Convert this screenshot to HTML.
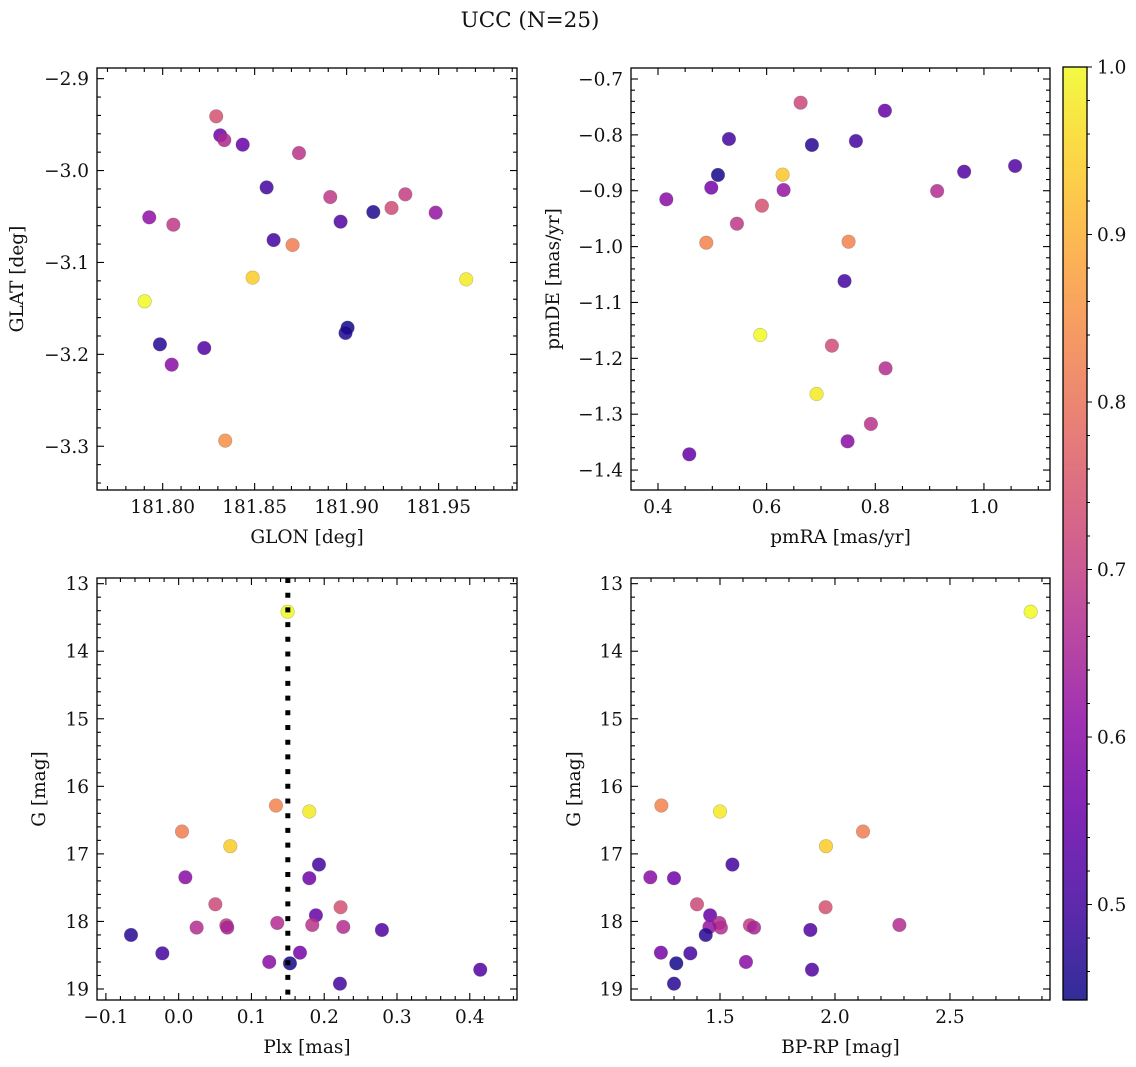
<!DOCTYPE html>
<html><head><meta charset="utf-8">
<style>
html,body{margin:0;padding:0;background:#fff;}
svg{display:block;font-family:"DejaVu Serif","Liberation Serif",serif;}
</style></head>
<body>
<svg id="fig" width="1136" height="1067" viewBox="0 0 1136 1067" xmlns="http://www.w3.org/2000/svg">
<rect width="1136" height="1067" fill="#fff"/>
<text x="530" y="27" font-size="21.5" text-anchor="middle" fill="#111">UCC (N=25)</text>
</svg>
<script>
// Panel 1: GLON vs GLAT
const glonVals=[181.8291,181.8313,181.8335,181.8435,181.8741,181.8565,181.8911,181.9319,181.9244,181.9145,181.9484,181.8967,181.7927,181.8058,181.8603,181.8706,181.8489,181.9650,181.7902,181.9005,181.8994,181.7985,181.8226,181.8049,181.8340];
const glatVals=[-2.9410,-2.9617,-2.9668,-2.9718,-2.9809,-3.0183,-3.0288,-3.0259,-3.0407,-3.0451,-3.0458,-3.0556,-3.0509,-3.0589,-3.0756,-3.0810,-3.1165,-3.1184,-3.1423,-3.1710,-3.1767,-3.1891,-3.1931,-3.2112,-3.2939];
const probA=[0.74,0.56,0.66,0.55,0.68,0.50,0.69,0.70,0.73,0.46,0.62,0.52,0.61,0.69,0.50,0.82,0.94,0.98,1.0,0.44,0.46,0.47,0.52,0.60,0.85];
// Panel 2: pmRA vs pmDE
const pmraVals=[0.6625,0.8177,0.5306,0.6833,0.7643,0.5104,0.6294,0.4981,0.6312,0.9139,0.9636,1.0574,0.4153,0.5913,0.5453,0.4889,0.7508,0.7434,0.5883,0.7201,0.8189,0.6919,0.7919,0.7490,0.4576];
const pmdeVals=[-0.7424,-0.7567,-0.8074,-0.8181,-0.8110,-0.8718,-0.8712,-0.8945,-0.8987,-0.9005,-0.8659,-0.8557,-0.9154,-0.9267,-0.9590,-0.9930,-0.9912,-1.0616,-1.1582,-1.1773,-1.2179,-1.2638,-1.3175,-1.3486,-1.3718];
const probB=[0.72,0.55,0.50,0.47,0.50,0.45,0.93,0.57,0.62,0.67,0.52,0.52,0.60,0.74,0.69,0.83,0.83,0.50,1.0,0.73,0.67,0.98,0.68,0.60,0.55];
// Panel 3/4: Plx, BP-RP vs G
const gVals=[13.415,16.284,16.373,16.669,16.886,17.158,17.346,17.360,17.746,17.790,17.909,18.022,18.091,18.057,18.091,18.052,18.081,18.126,18.200,18.472,18.462,18.600,18.620,18.921,18.714];
const plxVals=[0.1497,0.1337,0.1795,0.0046,0.0710,0.1928,0.0092,0.1795,0.0504,0.2225,0.1886,0.1355,0.0247,0.0655,0.0668,0.1836,0.2262,0.2793,-0.0655,-0.0224,0.1667,0.1245,0.1529,0.2216,0.4144];
const probC=[1.0,0.83,0.98,0.82,0.94,0.50,0.60,0.56,0.72,0.74,0.55,0.67,0.67,0.70,0.65,0.68,0.67,0.52,0.47,0.50,0.57,0.60,0.45,0.50,0.52];
const gValsD=[13.415,16.284,16.373,16.669,16.886,17.158,17.346,17.360,17.746,17.790,17.909,18.022,18.091,18.057,18.091,18.081,18.052,18.126,18.200,18.472,18.462,18.600,18.620,18.921,18.714];
const bprpVals=[2.851,1.245,1.500,2.122,1.961,1.554,1.197,1.300,1.400,1.959,1.457,1.497,1.504,1.630,1.648,1.454,2.280,1.893,1.438,1.371,1.243,1.613,1.310,1.300,1.900];
const probD=[1.0,0.83,0.98,0.82,0.94,0.50,0.60,0.56,0.72,0.74,0.55,0.67,0.67,0.70,0.65,0.62,0.67,0.52,0.47,0.50,0.57,0.60,0.45,0.47,0.52];
const plxLine=[0.15];
const cbTicks=[0.5,0.6,0.7,0.8,0.9,1.0];

const NS="http://www.w3.org/2000/svg";
const svg=document.getElementById('fig');
const VMIN=0.443,VMAX=1.0;
const FS=18.5;
const stops=["#0d0887","#41049d","#6a00a8","#8f0da4","#b12a90","#cc4778","#e16462","#f2844b","#fca636","#fcce25","#f0f921"];
function hex(h){return [parseInt(h.substr(1,2),16),parseInt(h.substr(3,2),16),parseInt(h.substr(5,2),16)];}
function plasma(t){t=Math.max(0,Math.min(1,t));const f=t*10,i=Math.min(9,Math.floor(f)),u=f-i;const a=hex(stops[i]),b=hex(stops[i+1]);
 return 'rgb('+a.map((v,k)=>Math.round(v+(b[k]-v)*u)).join(',')+')';}
function cmap(v){return plasma((v-VMIN)/(VMAX-VMIN));}
function el(tag,attrs,parent){const e=document.createElementNS(NS,tag);for(const k in attrs)e.setAttribute(k,attrs[k]);(parent||svg).appendChild(e);return e;}
function fmt(v,d){const s=Math.abs(v).toFixed(d);return (v<-1e-9?'−':'')+s;}

function panel(o){
 const g=el('g',{});
 
 
 const L=o.x0,R=o.x1,T=o.y0,B=o.y1;
 const sx=v=>L+(v-o.xmin)/(o.xmax-o.xmin)*(R-L);
 const sy=o.invert?(v=>T+(v-o.ymin)/(o.ymax-o.ymin)*(B-T)):(v=>B-(v-o.ymin)/(o.ymax-o.ymin)*(B-T));
 const pg=el('g',{},g);
 
 
 for(let i=0;i<o.xs.length;i++){
  const c=el('circle',{cx:sx(o.xs[i]).toFixed(2),cy:sy(o.ys[i]).toFixed(2),r:6.8,fill:cmap(o.cs[i]),'fill-opacity':0.85,stroke:'#555','stroke-opacity':0.35,'stroke-width':0.6},pg);
  
  
 }
 if(o.vline){for(const v of o.vline){
  const ln=el('line',{x1:sx(v),x2:sx(v),y1:T,y2:B,stroke:'#000','stroke-width':5,'stroke-dasharray':'5 9.7'},g);
  
  
 }}
 const tk=el('g',{stroke:'#000','stroke-width':1.1},g);
 
 
 const lo=Math.min(o.xmin,o.xmax),hi=Math.max(o.xmin,o.xmax);
 for(let k=Math.ceil(lo/o.xminor-1e-6);k*o.xminor<=hi+1e-9;k++){
  const v=k*o.xminor,x=sx(v);const maj=Math.abs(v/o.xmajor-Math.round(v/o.xmajor))<1e-6;const len=maj?7:4;
  el('line',{x1:x,x2:x,y1:B,y2:B-len},tk);el('line',{x1:x,x2:x,y1:T,y2:T+len},tk);
  if(maj){const t=el('text',{x:x,y:B+23,'font-size':FS,'text-anchor':'middle',fill:'#111',stroke:'none'},g);t.textContent=fmt(v,o.xdec);
   }
 }
 const ylo=Math.min(o.ymin,o.ymax),yhi=Math.max(o.ymin,o.ymax);
 for(let k=Math.ceil(ylo/o.yminor-1e-6);k*o.yminor<=yhi+1e-9;k++){
  const v=k*o.yminor,y=sy(v);const maj=Math.abs(v/o.ymajor-Math.round(v/o.ymajor))<1e-6;const len=maj?7:4;
  el('line',{x1:L,x2:L+len,y1:y,y2:y},tk);el('line',{x1:R,x2:R-len,y1:y,y2:y},tk);
  if(maj){const t=el('text',{x:L-8,y:y+6.5,'font-size':FS,'text-anchor':'end',fill:'#111',stroke:'none'},g);t.textContent=fmt(v,o.ydec);
   }
 }
 el('rect',{x:L,y:T,width:R-L,height:B-T,fill:'none',stroke:'#000','stroke-width':1.3},g);
 const xl=el('text',{x:(L+R)/2,y:B+53,'font-size':FS,'text-anchor':'middle',fill:'#111'},g);xl.textContent=o.xlabel;
 
 const yl=el('text',{x:0,y:0,'font-size':FS,'text-anchor':'middle',fill:'#111',transform:'translate('+o.ylx+','+((T+B)/2)+') rotate(-90)'},g);yl.textContent=o.ylabel;
 
}

panel({name:'glon-glat-panel',x0:97,x1:517,y0:68,y1:490,xmin:181.7643,xmax:181.9926,ymin:-3.3476,ymax:-2.8884,
 xs:glonVals,ys:glatVals,cs:probA,xminor:0.01,xmajor:0.05,yminor:0.02,ymajor:0.1,xdec:2,ydec:1,xlabel:'GLON [deg]',ylabel:'GLAT [deg]',ylx:23});
panel({name:'pm-panel',x0:631,x1:1050,y0:68,y1:490,xmin:0.3503,xmax:1.1216,ymin:-1.4357,ymax:-0.6803,
 xs:pmraVals,ys:pmdeVals,cs:probB,xminor:0.05,xmajor:0.2,yminor:0.02,ymajor:0.1,xdec:1,ydec:1,xlabel:'pmRA [mas/yr]',ylabel:'pmDE [mas/yr]',ylx:559});
panel({name:'plx-g-panel',x0:97,x1:517,y0:578,y1:1000,xmin:-0.1122,xmax:0.4649,ymin:12.916,ymax:19.163,invert:true,
 xs:plxVals,ys:gVals,cs:probC,xminor:0.02,xmajor:0.1,yminor:0.2,ymajor:1,xdec:1,ydec:0,xlabel:'Plx [mas]',ylabel:'G [mag]',ylx:45,vline:plxLine});
panel({name:'cmd-panel',x0:631,x1:1050,y0:578,y1:1000,xmin:1.113,xmax:2.935,ymin:12.916,ymax:19.163,invert:true,
 xs:bprpVals,ys:gValsD,cs:probD,xminor:0.1,xmajor:0.5,yminor:0.2,ymajor:1,xdec:1,ydec:0,xlabel:'BP-RP [mag]',ylabel:'G [mag]',ylx:580});

const cb=el('g',{});


const defs=el('defs',{},cb);
const lg=el('linearGradient',{id:'cbg',x1:0,y1:1,x2:0,y2:0},defs);
for(let i=0;i<=20;i++){const t=i/20;el('stop',{offset:t,'stop-color':cmap(VMIN+t*(VMAX-VMIN)),'stop-opacity':0.85},lg);}
const CT=67,CB=1000,CL=1063,CR=1087;
el('rect',{x:CL,y:CT,width:CR-CL,height:CB-CT,fill:'url(#cbg)',stroke:'#000','stroke-width':1.3},cb);
const cy=v=>CB-(v-VMIN)/(VMAX-VMIN)*(CB-CT);
for(let k=23;k<=50;k++){const v=k*0.02;const y=cy(v);if(y<CT-0.1)continue;
 const maj=Math.abs(v*10-Math.round(v*10))<1e-6;
 el('line',{x1:CR,x2:CR+(maj?5:3),y1:y,y2:y,stroke:'#000','stroke-width':1},cb);}
for(const v of cbTicks){const t=el('text',{x:CR+10,y:cy(v)+6.5,'font-size':FS,fill:'#111'},cb);t.textContent=v.toFixed(1);
 }
</script>
</body></html>
